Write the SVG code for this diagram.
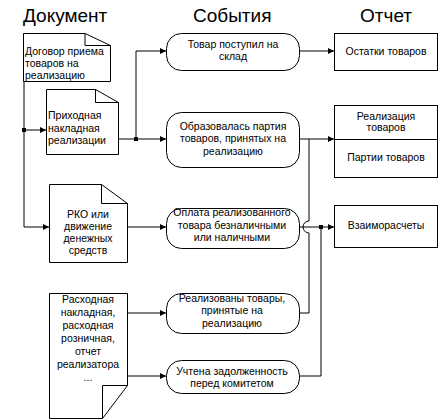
<svg xmlns="http://www.w3.org/2000/svg" width="438" height="419" viewBox="0 0 438 419">
<style>
.shape{fill:#fff;stroke:#000;stroke-width:1}
.fold{fill:none;stroke:#000;stroke-width:1}
.line{fill:none;stroke:#000;stroke-width:1}
.arrow{marker-end:url(#ah)}
text{font-family:"Liberation Sans",Arial,sans-serif;font-size:10.5px;fill:#000}
.hdr{font-size:19px}
.c{text-anchor:middle}
</style>
<defs>
<marker id="ah" markerUnits="userSpaceOnUse" markerWidth="7" markerHeight="7" refX="6" refY="3" orient="auto">
<path d="M0,0 L6,3 L0,6 Z" fill="#000"/>
</marker>
</defs>
<rect width="438" height="419" fill="#fff"/>
<g id="headers">
<text class="hdr" x="23" y="22">Документ</text>
<text class="hdr" x="193" y="22">События</text>
<text class="hdr" x="360" y="22">Отчет</text>
</g>
<g id="connectors">
<path class="line arrow" d="M24,81 V227 H49"/>
<path class="line arrow" d="M24,130 H46"/>
<path class="line arrow" d="M118,139 H166"/>
<path class="line arrow" d="M136,139 V51 H166"/>
<path class="line arrow" d="M299,51 H334"/>
<path class="line arrow" d="M299,139 H334"/>
<path class="line" d="M299,313 H309 V233 A6,6 0 0 1 309,221 V139"/>
<path class="line arrow" d="M299,227 H334"/>
<path class="line" d="M299,376 H321 V227"/>
<path class="line arrow" d="M127,227 H166"/>
<path class="line arrow" d="M127,313 H166"/>
<path class="line arrow" d="M127,376 H166"/>
<rect x="22" y="128" width="4" height="4"/>
<rect x="134" y="137" width="4" height="4"/>
<rect x="319" y="225" width="4" height="4"/>
</g>
<g id="doc1">
<path class="shape" d="M23.5,33.5 H85 L110.5,45.5 V81.5 H23.5 Z"/>
<path class="fold" d="M85,33.5 V45.5 H110.5"/>
<text x="25" y="54.5">Договор приема</text>
<text x="25" y="67">товаров на</text>
<text x="25" y="79">реализацию</text>
</g>
<g id="doc2">
<path class="shape" d="M46.5,89.5 H95.5 L118.5,102.5 V154.5 H46.5 Z"/>
<path class="fold" d="M95.5,89.5 V102.5 H118.5"/>
<text x="48" y="119">Приходная</text>
<text x="48" y="131.5">накладная</text>
<text x="48" y="144">реализации</text>
</g>
<g id="doc3">
<path class="shape" d="M49.5,184.5 H101.5 L127.5,203.5 V262.5 H49.5 Z"/>
<path class="fold" d="M101.5,184.5 V203.5 H127.5"/>
<text class="c" x="88" y="218">РКО или</text>
<text class="c" x="88" y="230">движение</text>
<text class="c" x="88" y="242">денежных</text>
<text class="c" x="88" y="254">средств</text>
</g>
<g id="doc4">
<path class="shape" d="M49.5,293.5 H127.5 V385.5 L102.5,418.5 H49.5 Z"/>
<path class="fold" d="M102.5,418.5 V385.5 H127.5"/>
<text class="c" x="88" y="303">Расходная</text>
<text class="c" x="88" y="316">накладная,</text>
<text class="c" x="88" y="329">расходная</text>
<text class="c" x="88" y="342">розничная,</text>
<text class="c" x="88" y="355">отчет</text>
<text class="c" x="88" y="368">реализатора</text>
<text class="c" x="88" y="381">...</text>
</g>
<g id="event1">
<rect class="shape" x="166.5" y="33.5" width="133" height="37" rx="15" ry="15"/>
<text class="c" x="233" y="47.5">Товар поступил на</text>
<text class="c" x="233" y="60">склад</text>
</g>
<g id="event2">
<rect class="shape" x="166.5" y="112.5" width="133" height="55" rx="15" ry="15"/>
<text class="c" x="233" y="129.5">Образовалась партия</text>
<text class="c" x="233" y="142">товаров, принятых на</text>
<text class="c" x="233" y="154.5">реализацию</text>
</g>
<g id="event3">
<rect class="shape" x="166.5" y="208.5" width="133" height="40" rx="15" ry="15"/>
<text class="c" x="232" y="216">Оплата реализованного</text>
<text class="c" x="232" y="228.5">товара безналичными</text>
<text class="c" x="232" y="241">или наличными</text>
</g>
<g id="event4">
<rect class="shape" x="166.5" y="293.5" width="133" height="40" rx="15" ry="15"/>
<text class="c" x="232" y="301.5">Реализованы товары,</text>
<text class="c" x="232" y="314">принятые на</text>
<text class="c" x="232" y="326.5">реализацию</text>
</g>
<g id="event5">
<rect class="shape" x="166.5" y="360.5" width="133" height="33" rx="15" ry="15"/>
<text class="c" x="232" y="375">Учтена задолженность</text>
<text class="c" x="232" y="387">перед комитетом</text>
</g>
<g id="report1">
<rect class="shape" x="334.5" y="33.5" width="103" height="37"/>
<text class="c" x="386" y="55">Остатки товаров</text>
</g>
<g id="report2">
<rect class="shape" x="334.5" y="105.5" width="103" height="72"/>
<path class="fold" d="M334.5,139.5 H437.5"/>
<text class="c" x="386" y="120">Реализация</text>
<text class="c" x="386" y="131">товаров</text>
<text class="c" x="386" y="161">Партии товаров</text>
</g>
<g id="report3">
<rect class="shape" x="334.5" y="205.5" width="103" height="42"/>
<text class="c" x="386" y="229">Взаиморасчеты</text>
</g>
</svg>
